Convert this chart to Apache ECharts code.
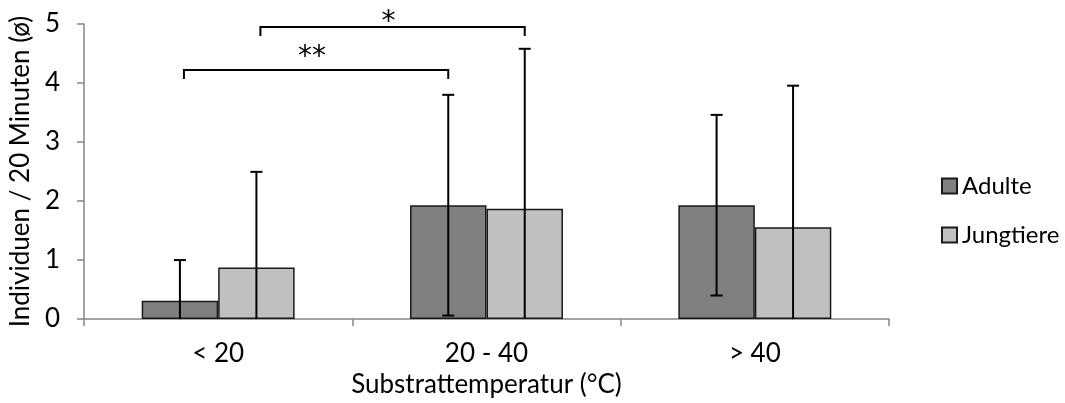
<!DOCTYPE html>
<html>
<head>
<meta charset="utf-8">
<script src="https://cdn.jsdelivr.net/npm/echarts@6/dist/echarts.min.js"></script>
<style>
  html, body { margin: 0; padding: 0; background: #fff; }
  #chart { width: 1065px; height: 403px; }
</style>
</head>
<body>
<div id="chart"></div>
<script>
// Substrate temperature classes
const categories = ['< 20', '20 - 40', '> 40'];

// Mean individuals per 20 minutes
const adultMean = [0.31, 1.93, 1.93];
const juvenileMean = [0.875, 1.87, 1.555];

// Standard deviations (drawn as error bars, clipped at 0)
const adultSd = [0.69, 1.87, 1.53];
const juvenileSd = [1.62, 2.71, 2.40];

// Significance brackets between bars: series index + category at each end,
// height of the bracket, and height of its label
const brackets = [
  { fromSeries: 0, fromCat: 0, toSeries: 0, toCat: 1, level: 4.22, labelLevel: 4.53, label: '**' },
  { fromSeries: 1, fromCat: 0, toSeries: 1, toCat: 1, level: 4.95, labelLevel: 5.12, label: '*' }
];

const yTicks = [0, 1, 2, 3, 4, 5];

const FONT = 'Lato';
const FONT_SIZE = 26;
const CAT_GAP = 0.43;

function barCenter(api, cat, seriesIdx) {
  const bandW = api.size([1, 0])[0];
  const barW = bandW * (1 - CAT_GAP) / 2;
  const cx = api.coord([cat, 0])[0];
  return cx + (seriesIdx === 0 ? -barW / 2 : barW / 2);
}

function errorData(mean, sd) {
  return mean.map((m, i) => [i, Math.max(0, m - sd[i]), m + sd[i], m - sd[i] > 0 ? 1 : 0]);
}

function errorSeries(name, seriesIdx, mean, sd) {
  return {
    type: 'custom',
    name: name + ' SD',
    data: errorData(mean, sd),
    encode: { x: 0, y: [1, 2] },
    z: 5,
    silent: true,
    renderItem: function (params, api) {
      const cat = api.value(0);
      const x = barCenter(api, cat, seriesIdx);
      const yLow = api.coord([cat, api.value(1)])[1];
      const yHigh = api.coord([cat, api.value(2)])[1];
      const cap = 6;
      const style = { stroke: '#000', lineWidth: 2 };
      const children = [
        { type: 'line', shape: { x1: x, y1: yLow, x2: x, y2: yHigh }, style: style },
        { type: 'line', shape: { x1: x - cap, y1: yHigh, x2: x + cap, y2: yHigh }, style: style }
      ];
      if (api.value(3)) {
        children.push({ type: 'line', shape: { x1: x - cap, y1: yLow, x2: x + cap, y2: yLow }, style: style });
      }
      return { type: 'group', children: children };
    }
  };
}

const bracketSeries = {
  type: 'custom',
  name: 'significance',
  data: brackets.map((b, i) => [b.fromCat, b.level, i]),
  encode: { x: 0, y: 1 },
  clip: false,
  silent: true,
  z: 6,
  renderItem: function (params, api) {
    const b = brackets[api.value(2)];
    const x1 = barCenter(api, b.fromCat, b.fromSeries) + 4;
    const x2 = barCenter(api, b.toCat, b.toSeries);
    const y = api.coord([0, b.level])[1];
    const yLabel = api.coord([0, b.labelLevel])[1];
    const drop = 9;
    const style = { stroke: '#000', lineWidth: 2, fill: null };
    return {
      type: 'group',
      children: [
        { type: 'polyline', shape: { points: [[x1, y + drop], [x1, y], [x2, y], [x2, y + drop]] }, style: style },
        {
          type: 'text',
          x: (x1 + x2) / 2 - 4,
          y: yLabel + 6,
          style: {
            text: b.label,
            fill: '#000',
            font: '28px "DejaVu Sans"',
            align: 'center',
            verticalAlign: 'middle'
          }
        }
      ]
    };
  }
};

const chart = echarts.init(document.getElementById('chart'));
chart.setOption({
  animation: false,
  backgroundColor: '#ffffff',
  textStyle: { fontFamily: FONT, color: '#000' },
  grid: { left: 82, right: 176, top: 24, bottom: 80, containLabel: false },
  legend: {
    orient: 'vertical',
    left: 936,
    top: 169,
    itemWidth: 15,
    itemHeight: 15,
    itemGap: 25,
    icon: 'rect',
    data: ['Adulte', 'Jungtiere'],
    textStyle: { fontFamily: FONT, fontSize: 24, color: '#000' }
  },
  xAxis: {
    type: 'category',
    data: categories,
    name: 'Substrattemperatur (°C)',
    nameLocation: 'middle',
    nameGap: 52,
    nameTextStyle: { fontFamily: FONT, fontSize: FONT_SIZE, color: '#000' },
    axisLine: { lineStyle: { color: '#868686', width: 1.5 } },
    axisTick: { show: true, length: 7, lineStyle: { color: '#868686', width: 1.5 } },
    axisLabel: { fontFamily: FONT, fontSize: FONT_SIZE, color: '#000', margin: 22 },
    splitLine: { show: false }
  },
  yAxis: {
    type: 'value',
    min: yTicks[0],
    max: yTicks[yTicks.length - 1],
    interval: 1,
    name: 'Individuen / 20 Minuten (ø)',
    nameLocation: 'middle',
    nameGap: 50,
    nameTextStyle: { fontFamily: FONT, fontSize: FONT_SIZE, color: '#000' },
    axisLine: { show: true, lineStyle: { color: '#868686', width: 1.5 } },
    axisTick: { show: true, length: 7, lineStyle: { color: '#868686', width: 1.5 } },
    axisLabel: { fontFamily: FONT, fontSize: FONT_SIZE, color: '#000', margin: 24 },
    splitLine: { show: false }
  },
  series: [
    {
      type: 'bar',
      name: 'Adulte',
      data: adultMean,
      barGap: '0%',
      barCategoryGap: (CAT_GAP * 100) + '%',
      itemStyle: { color: '#808080', borderColor: '#1a1a1a', borderWidth: 1.5 }
    },
    {
      type: 'bar',
      name: 'Jungtiere',
      data: juvenileMean,
      barGap: '0%',
      barCategoryGap: (CAT_GAP * 100) + '%',
      itemStyle: { color: '#c0c0c0', borderColor: '#1a1a1a', borderWidth: 1.5 }
    },
    errorSeries('Adulte', 0, adultMean, adultSd),
    errorSeries('Jungtiere', 1, juvenileMean, juvenileSd),
    bracketSeries
  ]
});
</script>
</body>
</html>
